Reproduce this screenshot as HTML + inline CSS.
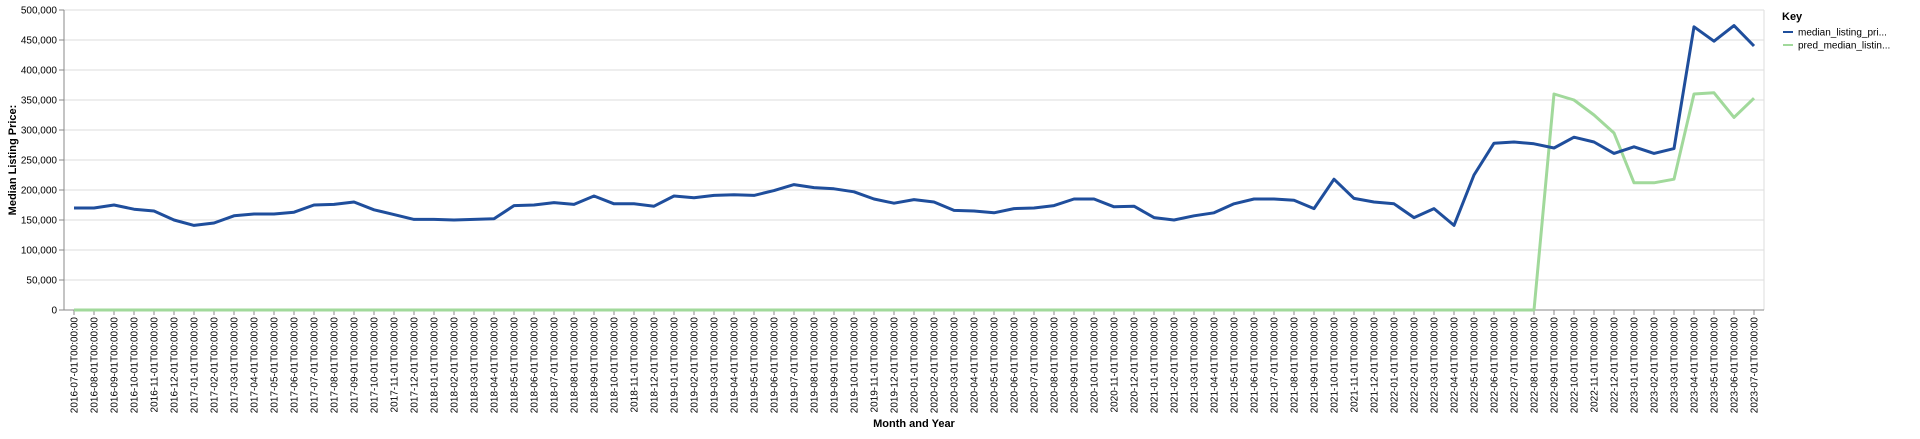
<!DOCTYPE html>
<html><head><meta charset="utf-8"><style>
body{margin:0;background:#fff;font-family:"Liberation Sans",sans-serif;}
svg text{font-family:"Liberation Sans",sans-serif;}
</style></head><body>
<svg id="chart" width="1920" height="434" xmlns="http://www.w3.org/2000/svg">
<g id="grid"></g><g id="axes"></g><g id="series"></g>
<text x="914" y="427" font-size="11" font-weight="bold" text-anchor="middle">Month and Year</text>
<text transform="translate(16,160) rotate(-90)" font-size="11" font-weight="bold" text-anchor="middle">Median Listing Price:</text>
<g>
<text x="1782" y="20" font-size="11" font-weight="bold">Key</text>
<g><line x1="1783" y1="32" x2="1793" y2="32" stroke="#1f4e9c" stroke-width="2"/><text x="1798" y="35.5" font-size="10">median_listing_pri...</text></g>
<g><line x1="1783" y1="45" x2="1793" y2="45" stroke="#a1d99b" stroke-width="2"/><text x="1798" y="48.5" font-size="10">pred_median_listin...</text></g>
</g>
</svg>
<script>
const months=[];for(let y=2016;y<=2023;y++)for(let m=1;m<=12;m++){if((y==2016&&m<7)||(y==2023&&m>7))continue;months.push(y+'-'+String(m).padStart(2,'0')+'-01T00:00:00');}
const medianValues=[170,170,175,168,165,150,141,145,157,160,160,163,175,176,180,167,159,151,151,150,151,152,174,175,179,176,190,177,177,173,190,187,191,192,191,199,209,204,202,197,185,178,184,180,166,165,162,169,170,174,185,185,172,173,154,150,157,162,177,185,185,183,169,218,186,180,177,154,169,141,225,278,280,277,270,288,280,261,272,261,269,472,448,474,440].map(v=>v*1000);
const predValues=[...Array(74).fill(0),360,350,325,295,212,212,218,360,362,321,353].map(v=>v*1000);
const yTicks=[0,50000,100000,150000,200000,250000,300000,350000,400000,450000,500000];
const NS='http://www.w3.org/2000/svg';
const X0=64,X1=1764,Y0=310,Y1=10;
const step=(X1-X0)/months.length;
const xs=i=>X0+step*(i+0.5);
const ys=v=>Y0-(v/500000)*(Y0-Y1);
function mk(t,a,p){const e=document.createElementNS(NS,t);for(const k in a)e.setAttribute(k,a[k]);p.appendChild(e);return e;}
const grid=document.getElementById('grid'),axes=document.getElementById('axes'),ser=document.getElementById('series');
yTicks.forEach(t=>{
 const l=mk('line',{x1:X0,x2:X1,y1:ys(t),y2:ys(t),stroke:'#ddd','stroke-width':1},grid);
 
 
 mk('line',{x1:X0-5,x2:X0,y1:ys(t),y2:ys(t),stroke:'#888'},axes);
 const tx=mk('text',{x:X0-7,y:ys(t)+3.5,'font-size':10,'text-anchor':'end',fill:'#000'},axes);
 tx.textContent=t.toLocaleString('en-US');
 
 
});
mk('line',{x1:X1,x2:X1,y1:Y1,y2:Y0,stroke:'#ddd'},grid);
mk('line',{x1:X0,x2:X0,y1:Y1,y2:Y0,stroke:'#888'},axes);
mk('line',{x1:X0,x2:X1,y1:Y0,y2:Y0,stroke:'#888'},axes);
months.forEach((m,i)=>{
 const x=xs(i);
 mk('line',{x1:x,x2:x,y1:Y0,y2:Y0+5,stroke:'#888'},axes);
 const tx=mk('text',{transform:`translate(${x+3.5},${Y0+7}) rotate(-90)`,'font-size':10,'text-anchor':'end'},axes);
 tx.textContent=m;
 
 
});
function line(vals,color,name){
 const p=mk('path',{d:vals.map((v,i)=>(i?'L':'M')+xs(i).toFixed(1)+','+ys(v).toFixed(1)).join(''),fill:'none',stroke:color,'stroke-width':3,'stroke-linejoin':'round'},ser);
 
 
}
line(predValues,'#a1d99b','pred-median-line');
line(medianValues,'#1f4e9c','median-listing-price-line');
</script>
</body></html>
